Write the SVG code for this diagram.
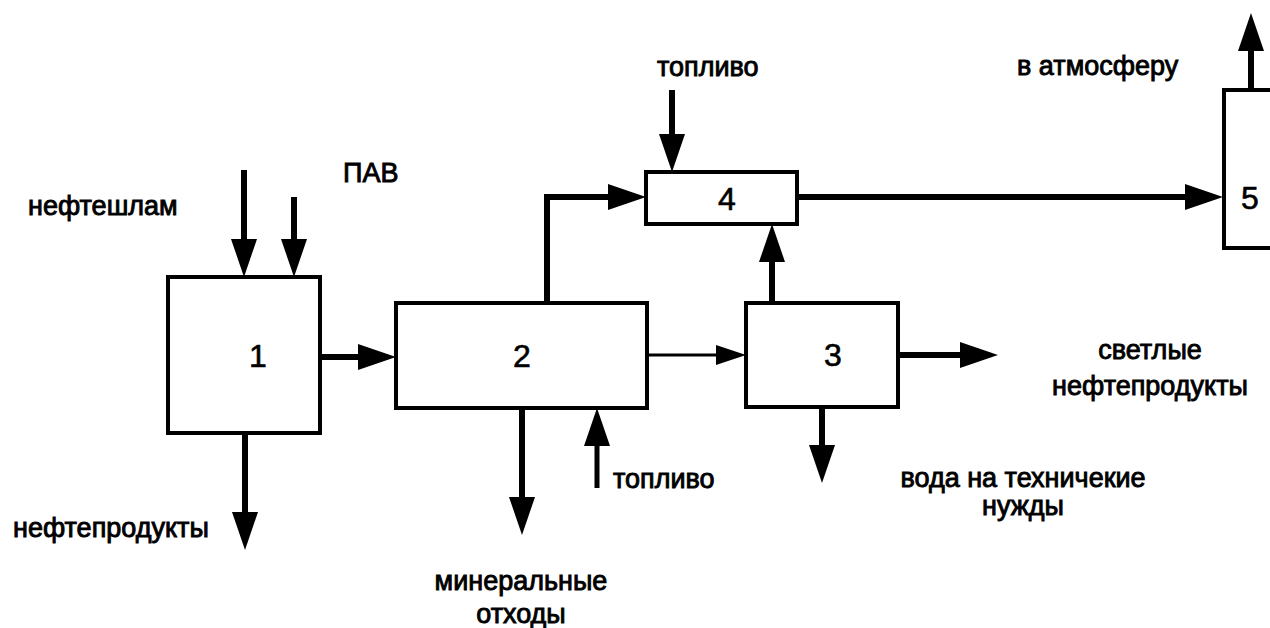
<svg xmlns="http://www.w3.org/2000/svg" width="1270" height="628" viewBox="0 0 1270 628">
  <style>
    .box { fill: #fff; stroke: #000; stroke-width: 4; }
    .flow { fill: none; stroke: #000; stroke-width: 6; }
    .thin { fill: none; stroke: #000; stroke-width: 3; }
    .lbl { font-family: "Liberation Sans", Arial, sans-serif; font-size: 27px; fill: #000; stroke: #000; stroke-width: 0.9; }
    .num { font-family: "Liberation Sans", Arial, sans-serif; font-size: 32px; fill: #000; stroke: #000; stroke-width: 0.6; text-anchor: middle; }
  </style>
  <defs>
    <marker id="head" markerUnits="userSpaceOnUse" markerWidth="40" markerHeight="28" refX="2" refY="13" orient="auto">
      <path d="M0,0 L38,13 L0,26 z" fill="#000"/>
    </marker>
    <marker id="headSmall" markerUnits="userSpaceOnUse" markerWidth="32" markerHeight="24" refX="2" refY="10" orient="auto">
      <path d="M0,0 L30,10 L0,20 z" fill="#000"/>
    </marker>
  </defs>

  <rect width="1270" height="628" fill="#fff"/>

  <!-- connectors -->
  <g id="connectors">
    <path class="flow" d="M244,170 V241" marker-end="url(#head)"/>
    <path class="flow" d="M294,197 V241" marker-end="url(#head)"/>
    <path class="flow" d="M320,357 H360" marker-end="url(#head)"/>
    <path class="flow" d="M547,303 V197 H610" marker-end="url(#head)"/>
    <path class="flow" d="M672,90 V136" marker-end="url(#head)"/>
    <path class="flow" d="M772,303 V260" marker-end="url(#head)"/>
    <path class="thin" d="M647,355 H718" marker-end="url(#headSmall)"/>
    <path class="flow" d="M898,355 H962" marker-end="url(#head)"/>
    <path class="flow" d="M822,407 V447" marker-end="url(#head)"/>
    <path class="flow" d="M797,197 H1187" marker-end="url(#head)"/>
    <path class="flow" d="M1251,90 V49" marker-end="url(#head)"/>
    <path class="flow" d="M245,433 V514" marker-end="url(#head)"/>
    <path class="flow" d="M522,408 V499" marker-end="url(#head)"/>
    <path class="flow" d="M597,488 V444" style="stroke-width:5" marker-end="url(#head)"/>
  </g>

  <!-- process units -->
  <g id="node1">
    <rect class="box" x="168" y="277" width="152" height="156"/>
    <text class="num" x="258" y="367">1</text>
  </g>
  <g id="node2">
    <rect class="box" x="396" y="303" width="251" height="105"/>
    <text class="num" x="522" y="367">2</text>
  </g>
  <g id="node3">
    <rect class="box" x="746" y="303" width="152" height="104"/>
    <text class="num" x="833" y="366">3</text>
  </g>
  <g id="node4">
    <rect class="box" x="646" y="172" width="151" height="52"/>
    <text class="num" x="727" y="210">4</text>
  </g>
  <g id="node5">
    <rect class="box" x="1224" y="90" width="80" height="158"/>
    <text class="num" x="1250" y="209">5</text>
  </g>

  <!-- stream labels -->
  <g id="labels">
    <text class="lbl" x="28" y="215">нефтешлам</text>
    <text class="lbl" x="343" y="182">ПАВ</text>
    <text class="lbl" x="657" y="76">топливо</text>
    <text class="lbl" x="1017" y="75">в атмосферу</text>
    <text class="lbl" x="1150" y="359" text-anchor="middle">светлые</text>
    <text class="lbl" x="1150" y="395" text-anchor="middle">нефтепродукты</text>
    <text class="lbl" x="1023" y="487" text-anchor="middle">вода на техничекие</text>
    <text class="lbl" x="1023" y="515" text-anchor="middle">нужды</text>
    <text class="lbl" x="613" y="488">топливо</text>
    <text class="lbl" x="521" y="590" text-anchor="middle">минеральные</text>
    <text class="lbl" x="521" y="623" text-anchor="middle">отходы</text>
    <text class="lbl" x="13" y="537">нефтепродукты</text>
  </g>
</svg>
